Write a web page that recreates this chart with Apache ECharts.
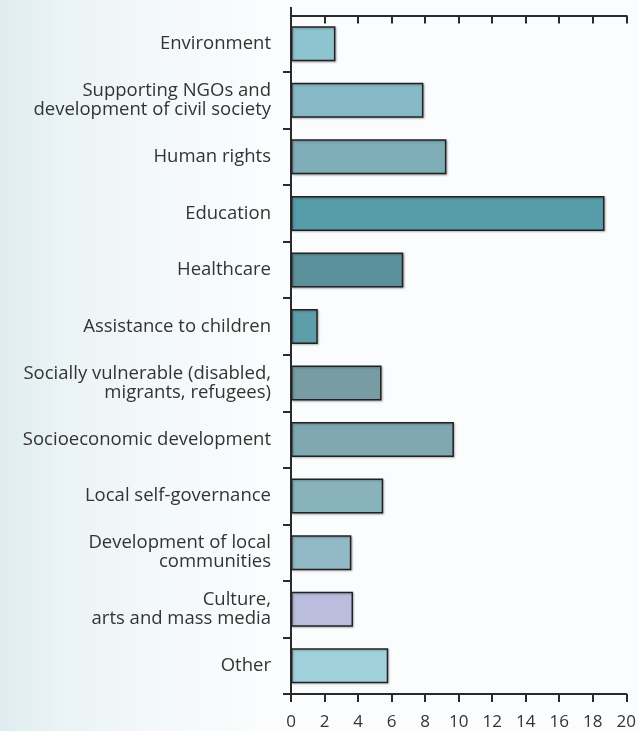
<!DOCTYPE html>
<html>
<head>
<meta charset="utf-8">
<script src="https://cdn.jsdelivr.net/npm/echarts@6/dist/echarts.min.js"></script>
<style>
html,body{margin:0;padding:0;}
#c{width:639px;height:731px;background:linear-gradient(90deg,#dfedf0 0px,#eaf3f5 60px,#f3f8fa 150px,#fafcfd 260px,#fbfcfe 639px);}
</style>
</head>
<body>
<div id="c"></div>
<script>
var categories = [
  'Environment',
  'Supporting NGOs and\ndevelopment of civil society',
  'Human rights',
  'Education',
  'Healthcare',
  'Assistance to children',
  'Socially vulnerable (disabled,\nmigrants, refugees)',
  'Socioeconomic development',
  'Local self-governance',
  'Development of local\ncommunities',
  'Culture,\narts and mass media',
  'Other'
];
var values = [2.65, 7.9, 9.27, 18.7, 6.7, 1.6, 5.4, 9.72, 5.5, 3.6, 3.7, 5.8];
var xTicks = [0, 2, 4, 6, 8, 10, 12, 14, 16, 18, 20];
var barColors = ['#8ec4d0','#86b9c5','#7faeb8','#579ca9','#5b8f9a','#5e9ea9','#779ca3','#80a8b1','#88b3bc','#91bac6','#bbbddf','#a1d2dc'];

var chart = echarts.init(document.getElementById('c'), null, {renderer:'canvas'});
var font = '"Open Sans", "Noto Sans", sans-serif';
var lineStyle = {color:'#2a2a2a', width:2};
function yAx(inside, showLabel){
  return {
    type:'category', data:categories, inverse:true,
    axisLine:{show:true, lineStyle:lineStyle},
    axisTick:{show:true, inside:inside, length:8, lineStyle:lineStyle,
      interval:function(i){ return i !== 0; }},
    axisLabel:{show:showLabel, margin:20, color:'#333', fontFamily:font, fontSize:18.5, lineHeight:19, align:'right'},
    splitLine:{show:false}
  };
}
function xAx(inside, showLabel){
  return {
    type:'value', min:0, max:20, interval:2,
    axisLine:{show:true, lineStyle:lineStyle},
    axisTick:{show:true, inside:inside, length:8, lineStyle:lineStyle},
    axisLabel:{show:showLabel, margin:20, color:'#333', fontFamily:font, fontSize:17,
      formatter:function(v){ return xTicks.indexOf(v) >= 0 ? String(v) : ''; }},
    splitLine:{show:false}
  };
}
chart.setOption({
  animation:false,
  grid:{left:291, right:12, top:15.5, bottom:37, containLabel:false},
  xAxis:[xAx(false,true), xAx(true,false)],
  yAxis:[yAx(false,true), yAx(true,false)],
  series:[{
    type:'bar', xAxisIndex:0, yAxisIndex:0, barWidth:35,
    data:values.map(function(v,i){ return {value:v, itemStyle:{color:barColors[i]}}; }),
    itemStyle:{borderColor:'#222', borderWidth:1.5, shadowColor:'rgba(0,0,0,0.25)', shadowBlur:2, shadowOffsetX:1, shadowOffsetY:1},
    z:1
  }]
});
var p0 = chart.convertToPixel({xAxisIndex:0}, 0);
chart.setOption({
  graphic:[{type:'line', shape:{x1:p0, y1:7, x2:p0, y2:16}, style:{stroke:'#2a2a2a', lineWidth:2}, z:10}]
});
</script>
</body>
</html>
